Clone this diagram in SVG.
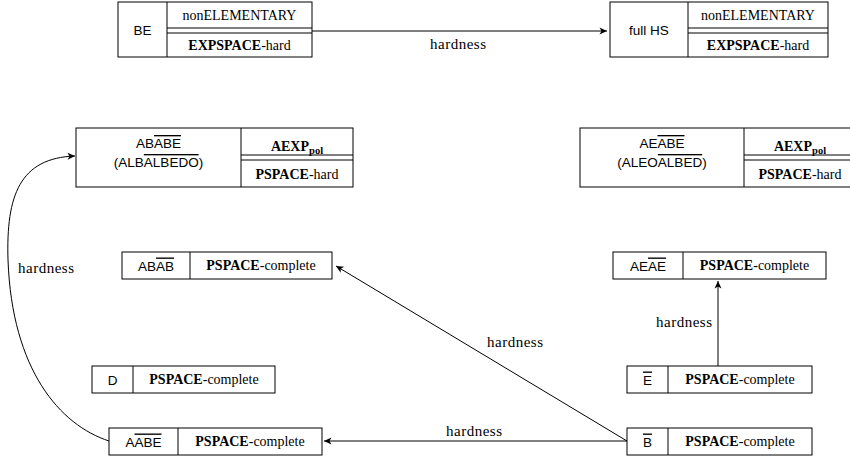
<svg xmlns="http://www.w3.org/2000/svg" width="850" height="460" viewBox="0 0 850 460">
<style>
.box{fill:#fff;stroke:#000;stroke-width:1}
.ln{fill:none;stroke:#000;stroke-width:1}
.edge{fill:none;stroke:#000;stroke-width:1;marker-end:url(#arr)}
.sans{font-family:"Liberation Sans",Arial,sans-serif;font-size:13.5px;fill:#000;text-anchor:middle}
.serif{font-family:"Liberation Serif","Times New Roman",serif;font-size:14px;fill:#000;text-anchor:middle}
.lbl{font-family:"Liberation Serif","Times New Roman",serif;font-size:15px;fill:#000;text-anchor:middle}
.b{font-weight:bold}
.ov{text-decoration:overline}
</style>
<defs>
<marker id="arr" viewBox="-9 -5 10 10" refX="0" refY="0" markerWidth="10" markerHeight="10" markerUnits="userSpaceOnUse" orient="auto">
<path d="M0,0 L-7.5,-3.5 L-5.5,0 L-7.5,3.5 Z" fill="#000"/>
</marker>
</defs>

<g id="edges">
<path class="edge" d="M312,31 H607"/>
<path class="edge" d="M627,441 L336,266"/>
<path class="edge" d="M627,441 H324"/>
<path class="edge" d="M718,366 V281"/>
<path class="edge" d="M109,441 C60,425 12,370 8,260 C6,195 20,158 75,156"/>
<text class="lbl" x="458" y="49" textLength="56" lengthAdjust="spacing">hardness</text>
<text class="lbl" x="515" y="347" textLength="56" lengthAdjust="spacing">hardness</text>
<text class="lbl" x="474" y="436" textLength="56" lengthAdjust="spacing">hardness</text>
<text class="lbl" x="684" y="327" textLength="56" lengthAdjust="spacing">hardness</text>
<text class="lbl" x="46" y="273" textLength="56" lengthAdjust="spacing">hardness</text>
</g>

<g id="BE">
<rect class="box" x="118" y="2" width="194" height="55"/>
<path class="ln" d="M167,2 V57 M167,28 H312 M167,33 H312"/>
<text class="sans" x="142.5" y="34.5">BE</text>
<text class="serif" x="239.5" y="20">nonELEMENTARY</text>
<text class="serif" x="239.5" y="50"><tspan class="b">EXPSPACE</tspan>-hard</text>
</g>

<g id="fullHS">
<rect class="box" x="610" y="2" width="218" height="55"/>
<path class="ln" d="M688,2 V57 M688,28 H828 M688,33 H828"/>
<text class="sans" x="649" y="34.5">full HS</text>
<text class="serif" x="758" y="20">nonELEMENTARY</text>
<text class="serif" x="758" y="50"><tspan class="b">EXPSPACE</tspan>-hard</text>
</g>

<g id="ABABE">
<rect class="box" x="76" y="128" width="277" height="59"/>
<path class="ln" d="M241,128 V187 M241,155 H353 M241,160 H353"/>
<text class="sans" x="158.5" y="148">AB<tspan class="ov">ABE</tspan></text>
<text class="sans" x="158.5" y="167">(ALB<tspan class="ov">ALBEDO</tspan>)</text>
<text class="serif b" x="297" y="151">AEXP<tspan font-size="10.5" dy="3">pol</tspan></text>
<text class="serif" x="297" y="179"><tspan class="b">PSPACE</tspan>-hard</text>
</g>

<g id="AEABE">
<rect class="box" x="580" y="128" width="276" height="59"/>
<path class="ln" d="M744,128 V187 M744,155 H856 M744,160 H856"/>
<text class="sans" x="662" y="148">AE<tspan class="ov">ABE</tspan></text>
<text class="sans" x="662" y="167">(ALEO<tspan class="ov">ALBED</tspan>)</text>
<text class="serif b" x="800" y="151">AEXP<tspan font-size="10.5" dy="3">pol</tspan></text>
<text class="serif" x="800" y="179"><tspan class="b">PSPACE</tspan>-hard</text>
</g>

<g id="ABAB">
<rect class="box" x="122" y="252" width="210" height="27"/>
<path class="ln" d="M190,252 V279"/>
<text class="sans" x="156" y="270.5">AB<tspan class="ov">AB</tspan></text>
<text class="serif" x="261" y="270"><tspan class="b">PSPACE</tspan>-complete</text>
</g>

<g id="AEAE">
<rect class="box" x="613" y="252" width="213" height="27"/>
<path class="ln" d="M683,252 V279"/>
<text class="sans" x="648" y="270.5">AE<tspan class="ov">AE</tspan></text>
<text class="serif" x="754.5" y="270"><tspan class="b">PSPACE</tspan>-complete</text>
</g>

<g id="D">
<rect class="box" x="92" y="366" width="183" height="27"/>
<path class="ln" d="M133,366 V393"/>
<text class="sans" x="112.5" y="384.5">D</text>
<text class="serif" x="204" y="384"><tspan class="b">PSPACE</tspan>-complete</text>
</g>

<g id="E">
<rect class="box" x="627" y="366" width="185" height="27"/>
<path class="ln" d="M668,366 V393"/>
<text class="sans" x="647.5" y="384.5"><tspan class="ov">E</tspan></text>
<text class="serif" x="740" y="384"><tspan class="b">PSPACE</tspan>-complete</text>
</g>

<g id="AABE">
<rect class="box" x="109" y="428" width="213" height="27"/>
<path class="ln" d="M178,428 V455"/>
<text class="sans" x="143.5" y="446.5">A<tspan class="ov">ABE</tspan></text>
<text class="serif" x="250" y="446"><tspan class="b">PSPACE</tspan>-complete</text>
</g>

<g id="B">
<rect class="box" x="627" y="428" width="185" height="27"/>
<path class="ln" d="M668,428 V455"/>
<text class="sans" x="647.5" y="446.5"><tspan class="ov">B</tspan></text>
<text class="serif" x="740" y="446"><tspan class="b">PSPACE</tspan>-complete</text>
</g>
</svg>
